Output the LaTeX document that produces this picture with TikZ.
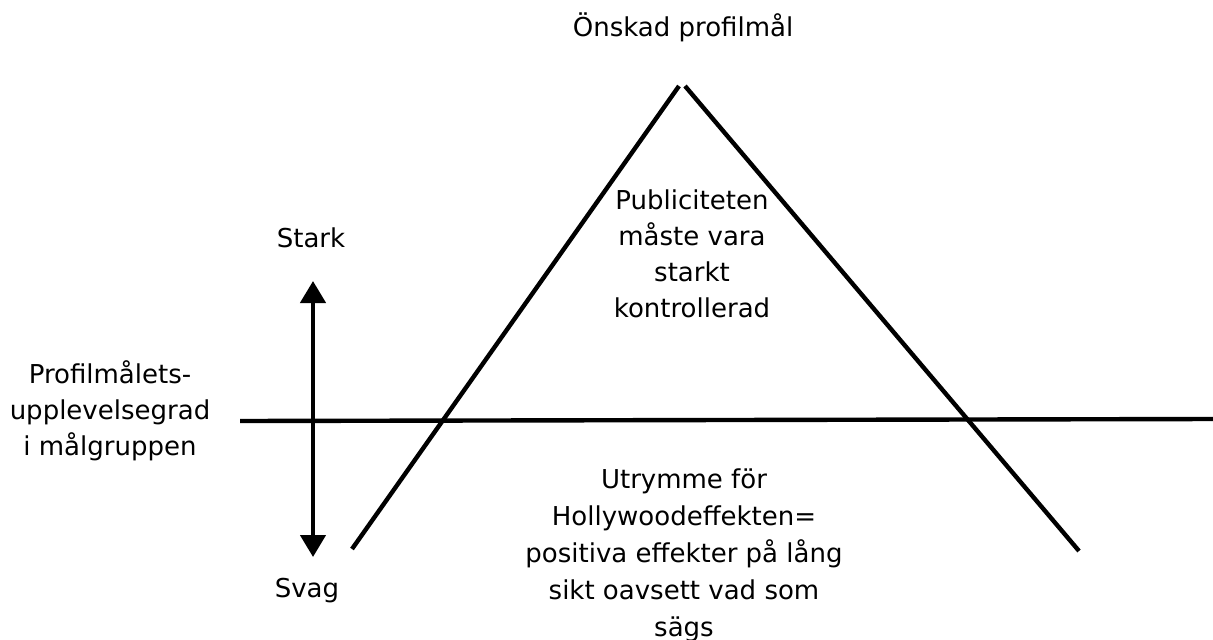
\documentclass[tikz,border=0pt]{standalone}
\usepackage{fontspec}
\setmainfont{DejaVu Sans}
\usetikzlibrary{arrows.meta}

\begin{document}
\begin{tikzpicture}[
        x=0.5pt,
        y=0.5pt,
        font=\fontsize{13}{18}\selectfont,
        line width=2.2pt,
        label/.style={align=center, inner sep=0pt}
    ]

    \useasboundingbox (0,0) rectangle (1213,639);

    % Triangle
    \coordinate (leftfoot) at (352,90);
    \coordinate (lefttop) at (679,553);
    \coordinate (righttop) at (685,553);
    \coordinate (rightfoot) at (1079,88);
    \draw (leftfoot) -- (lefttop);
    \draw (righttop) -- (rightfoot);

    % Threshold
    \coordinate (lineleft) at (240,218);
    \coordinate (lineright) at (1213,220);
    \draw (lineleft) -- (lineright);

    % Scale
    \node[label] (stark) at (311,401) {Stark};
    \node[label] (svag) at (307,48) {Svag};
    \coordinate (scaletop) at (313,358);
    \coordinate (scalebottom) at (313,82);
    \draw[{Triangle[length=11pt,width=12.5pt]}-{Triangle[length=11pt,width=12.5pt]}]
        (scalebottom) -- (scaletop);

    % Texts
    \node[label] (goal) at (683,612) {Önskad profilmål};
    \node[label] (degree) at (110,228)
        {Profilmålets-\\upplevelsegrad\\i målgruppen};
    \node[label] (control) at (692,385)
        {Publiciteten\\måste vara\\starkt\\kontrollerad};
    \node[label, font=\fontsize{13}{18.5}\selectfont] (hollywood) at (684,84)
        {Utrymme för\\Hollywoodeffekten=\\positiva effekter på lång\\sikt oavsett vad som\\sägs};

\end{tikzpicture}
\end{document}
